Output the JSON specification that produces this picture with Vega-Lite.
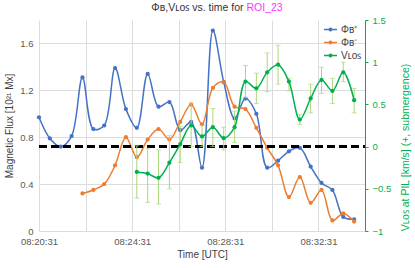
{
  "$schema": "https://vega.github.io/schema/vega-lite/v6.json",
  "width": 326,
  "height": 211,
  "autosize": "none",
  "padding": {"left": 39, "top": 20, "right": 50, "bottom": 37},
  "background": "white",
  "config": {
    "font": "Liberation Sans",
    "view": {"stroke": null},
    "axis": {
      "labelFont": "Liberation Sans",
      "titleFont": "Liberation Sans",
      "labelFontSize": 9.5,
      "titleFontSize": 10,
      "labelColor": "#595959",
      "titleColor": "#404040",
      "titleFontWeight": "normal",
      "gridColor": "#dcdcdc",
      "tickColor": "#dcdcdc",
      "domainColor": "#dcdcdc"
    }
  },
  "data": {
    "values": [
      {"t": "2024-01-01T08:20:31Z", "pos": 0.97, "neg": null, "v": null, "vlo": null, "vhi": null},
      {"t": "2024-01-01T08:20:59Z", "pos": 0.79, "neg": null, "v": null, "vlo": null, "vhi": null},
      {"t": "2024-01-01T08:21:27Z", "pos": 0.72, "neg": null, "v": null, "vlo": null, "vhi": null},
      {"t": "2024-01-01T08:21:55Z", "pos": 0.81, "neg": null, "v": null, "vlo": null, "vhi": null},
      {"t": "2024-01-01T08:22:23Z", "pos": 1.31, "neg": 0.32, "v": null, "vlo": null, "vhi": null},
      {"t": "2024-01-01T08:22:51Z", "pos": 0.87, "neg": 0.35, "v": null, "vlo": null, "vhi": null},
      {"t": "2024-01-01T08:23:19Z", "pos": 0.90, "neg": 0.40, "v": null, "vlo": null, "vhi": null},
      {"t": "2024-01-01T08:23:47Z", "pos": 1.39, "neg": 0.56, "v": null, "vlo": null, "vhi": null},
      {"t": "2024-01-01T08:24:15Z", "pos": 1.04, "neg": 0.80, "v": null, "vlo": null, "vhi": null},
      {"t": "2024-01-01T08:24:43Z", "pos": 0.88, "neg": 0.63, "v": -0.30, "vlo": -0.61, "vhi": 0.01},
      {"t": "2024-01-01T08:25:11Z", "pos": 1.34, "neg": 0.78, "v": -0.32, "vlo": -0.66, "vhi": -0.02},
      {"t": "2024-01-01T08:25:39Z", "pos": 1.06, "neg": 0.87, "v": -0.37, "vlo": -0.68, "vhi": -0.04},
      {"t": "2024-01-01T08:26:07Z", "pos": 1.10, "neg": 0.78, "v": -0.19, "vlo": -0.50, "vhi": 0.13},
      {"t": "2024-01-01T08:26:35Z", "pos": 0.86, "neg": 0.93, "v": 0.03, "vlo": -0.19, "vhi": 0.24},
      {"t": "2024-01-01T08:27:03Z", "pos": 0.93, "neg": 1.08, "v": 0.25, "vlo": 0.00, "vhi": 0.51},
      {"t": "2024-01-01T08:27:31Z", "pos": 0.54, "neg": 0.91, "v": 0.12, "vlo": 0.00, "vhi": 0.25},
      {"t": "2024-01-01T08:27:59Z", "pos": 1.71, "neg": 1.22, "v": 0.23, "vlo": 0.00, "vhi": 0.45},
      {"t": "2024-01-01T08:28:27Z", "pos": 1.27, "neg": 1.27, "v": 0.10, "vlo": -0.04, "vhi": 0.23},
      {"t": "2024-01-01T08:28:55Z", "pos": 0.96, "neg": 1.06, "v": 0.23, "vlo": 0.05, "vhi": 0.42},
      {"t": "2024-01-01T08:29:23Z", "pos": 1.13, "neg": 1.04, "v": 0.77, "vlo": 0.58, "vhi": 0.96},
      {"t": "2024-01-01T08:29:51Z", "pos": 1.00, "neg": 0.88, "v": 0.69, "vlo": 0.51, "vhi": 0.87},
      {"t": "2024-01-01T08:30:19Z", "pos": 0.54, "neg": 0.71, "v": 0.88, "vlo": 0.65, "vhi": 1.11},
      {"t": "2024-01-01T08:30:47Z", "pos": 0.60, "neg": 0.56, "v": 0.97, "vlo": 0.74, "vhi": 1.20},
      {"t": "2024-01-01T08:31:15Z", "pos": 0.68, "neg": 0.29, "v": 0.77, "vlo": 0.66, "vhi": 0.81},
      {"t": "2024-01-01T08:31:43Z", "pos": 0.71, "neg": 0.46, "v": 0.32, "vlo": 0.26, "vhi": 0.38},
      {"t": "2024-01-01T08:32:11Z", "pos": 0.55, "neg": 0.24, "v": 0.57, "vlo": 0.40, "vhi": 0.74},
      {"t": "2024-01-01T08:32:39Z", "pos": 0.41, "neg": 0.35, "v": 0.79, "vlo": 0.63, "vhi": 0.94},
      {"t": "2024-01-01T08:33:07Z", "pos": 0.35, "neg": 0.09, "v": 0.66, "vlo": 0.51, "vhi": 0.81},
      {"t": "2024-01-01T08:33:35Z", "pos": 0.12, "neg": 0.15, "v": 0.88, "vlo": 0.77, "vhi": 1.00},
      {"t": "2024-01-01T08:34:03Z", "pos": 0.10, "neg": 0.08, "v": 0.55, "vlo": 0.40, "vhi": 0.69}
    ]
  },
  "encoding": {
    "x": {
      "field": "t",
      "type": "temporal",
      "title": "Time [UTC]",
      "scale": {
        "type": "utc",
        "domain": [
          {"year": 2024, "month": 1, "date": 1, "hours": 8, "minutes": 20, "seconds": 31, "utc": true},
          {"year": 2024, "month": 1, "date": 1, "hours": 8, "minutes": 34, "seconds": 31, "utc": true}
        ]
      },
      "axis": {
        "values": [
          {"year": 2024, "month": 1, "date": 1, "hours": 8, "minutes": 20, "seconds": 31, "utc": true},
          {"year": 2024, "month": 1, "date": 1, "hours": 8, "minutes": 22, "seconds": 31, "utc": true},
          {"year": 2024, "month": 1, "date": 1, "hours": 8, "minutes": 24, "seconds": 31, "utc": true},
          {"year": 2024, "month": 1, "date": 1, "hours": 8, "minutes": 26, "seconds": 31, "utc": true},
          {"year": 2024, "month": 1, "date": 1, "hours": 8, "minutes": 28, "seconds": 31, "utc": true},
          {"year": 2024, "month": 1, "date": 1, "hours": 8, "minutes": 30, "seconds": 31, "utc": true},
          {"year": 2024, "month": 1, "date": 1, "hours": 8, "minutes": 32, "seconds": 31, "utc": true},
          {"year": 2024, "month": 1, "date": 1, "hours": 8, "minutes": 34, "seconds": 31, "utc": true}
        ],
        "labelExpr": "utcminutes(datum.value) % 4 == 0 ? utcFormat(datum.value, '%H:%M:%S') : ''",
        "grid": true,
        "tickSize": 0,
        "labelPadding": 5,
        "titlePadding": 4,
        "labelFlush": false
      }
    }
  },
  "layer": [
    {
      "layer": [
        {
          "mark": {"type": "line", "interpolate": "catmull-rom", "strokeWidth": 1.5, "point": {"filled": true, "size": 18}},
          "encoding": {
            "y": {
              "field": "pos",
              "type": "quantitative",
              "title": "Magnetic Flux [10²¹ Mx]",
              "scale": {"domain": [0, 1.8], "nice": false},
              "axis": {
                "orient": "left",
                "values": [0, 0.2, 0.4, 0.6, 0.8, 1.0, 1.2, 1.4, 1.6, 1.8],
                "format": "~g",
                "labelExpr": "round(datum.value * 10) % 4 == 0 ? datum.label : ''",
                "domain": false,
                "tickSize": 0,
                "labelPadding": 6,
                "titlePadding": 5
              }
            },
            "color": {
              "datum": "Φʙ⁺",
              "type": "nominal",
              "scale": {"domain": ["Φʙ⁺", "Φʙ⁻", "Vʟᴏꜱ"], "range": ["#4472c4", "#ed7d31", "#00b050"]},
              "legend": {
                "orient": "top-right",
                "offset": 3,
                "padding": 0,
                "title": null,
                "symbolType": "M-1,-0.1H1V0.1H-1Z M0.3,0A0.3,0.3 0 1,1 -0.3,0A0.3,0.3 0 1,1 0.3,0Z",
                "symbolSize": 169,
                "symbolStrokeWidth": 0,
                "labelFontSize": 10,
                "labelFont": "Liberation Sans",
                "labelColor": "#404040",
                "labelOffset": 4,
                "rowPadding": 1,
                "encode": {"symbols": {"update": {"fill": {"scale": "color", "field": "value"}, "opacity": {"value": 1}}}}
              }
            }
          }
        },
        {
          "mark": {"type": "line", "interpolate": "catmull-rom", "strokeWidth": 1.5, "point": {"filled": true, "size": 18}},
          "encoding": {
            "y": {"field": "neg", "type": "quantitative", "title": "Magnetic Flux [10²¹ Mx]", "scale": {"domain": [0, 1.8], "nice": false}},
            "color": {"datum": "Φʙ⁻", "type": "nominal"}
          }
        },
        {
          "data": {"values": [{"t": "2024-01-01T08:29:18Z", "label": "Φʙ,Vʟᴏꜱ vs. time for"}]},
          "mark": {"type": "text", "align": "right", "baseline": "middle", "fontSize": 10.5, "color": "#333333", "font": "Liberation Sans"},
          "encoding": {
            "y": {"datum": 1.9, "type": "quantitative"},
            "text": {"field": "label"}
          }
        },
        {
          "data": {"values": [{"t": "2024-01-01T08:29:18Z", "label": "ROI_23"}]},
          "mark": {"type": "text", "align": "left", "baseline": "middle", "fontSize": 10.5, "color": "#ff33ff", "font": "Liberation Sans", "dx": 3},
          "encoding": {
            "y": {"datum": 1.9, "type": "quantitative"},
            "text": {"field": "label"}
          }
        }
      ]
    },
    {
      "layer": [
        {
          "mark": {"type": "rule", "color": "#000000", "strokeWidth": 2.5, "strokeDash": [8, 4]},
          "encoding": {
            "x": {"value": 0},
            "x2": {"value": 326},
            "y": {
              "datum": 0,
              "type": "quantitative",
              "title": "Vʟᴏꜱ at PIL [km/s] (+, submergence)",
              "scale": {"domain": [-1, 1.5], "nice": false},
              "axis": {
                "orient": "right",
                "values": [-1, -0.5, 0, 0.5, 1, 1.5],
                "format": "~g",
                "grid": false,
                "domainColor": "#00b050",
                "tickColor": "#00b050",
                "labelColor": "#00b050",
                "titleColor": "#00b050",
                "titleFontSize": 10.5,
                "tickSize": 3,
                "labelPadding": 4,
                "titlePadding": 20,
                "titleAngle": 270,
                "titleY": 127
              }
            }
          }
        },
        {
          "mark": {"type": "errorbar", "ticks": {"size": 5}, "color": "#a9d878", "thickness": 1},
          "encoding": {
            "y": {"field": "vlo", "type": "quantitative", "title": "Vʟᴏꜱ at PIL [km/s] (+, submergence)", "scale": {"domain": [-1, 1.5], "nice": false}},
            "y2": {"field": "vhi"}
          }
        },
        {
          "mark": {"type": "line", "interpolate": "catmull-rom", "strokeWidth": 1.5, "point": {"filled": true, "size": 18}},
          "encoding": {
            "y": {"field": "v", "type": "quantitative", "title": "Vʟᴏꜱ at PIL [km/s] (+, submergence)", "scale": {"domain": [-1, 1.5], "nice": false}},
            "color": {"datum": "Vʟᴏꜱ", "type": "nominal"}
          }
        }
      ]
    }
  ],
  "resolve": {"scale": {"y": "independent"}}
}
